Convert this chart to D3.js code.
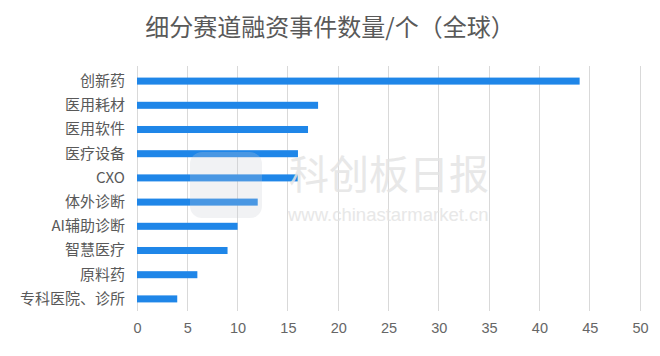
<!DOCTYPE html>
<html><head><meta charset="utf-8">
<script src="https://cdn.jsdelivr.net/npm/d3@7"></script>
<style>body{margin:0;background:#fff}svg{display:block}</style>
</head><body>
<svg id="c" width="660" height="356"></svg>
<script>
const categories = ["创新药","医用耗材","医用软件","医疗设备","CXO","体外诊断","AI辅助诊断","智慧医疗","原料药","专科医院、诊所"];
const values = [44,18,17,16,16,12,10,9,6,4];
const xTicks = [0,5,10,15,20,25,30,35,40,45,50];
const title = "细分赛道融资事件数量/个（全球）";

const svg = d3.select("#c");
const font = "'Noto Sans CJK SC','Noto Sans',sans-serif";
const x = d3.scaleLinear().domain([0,50]).range([137,640]);
const y = d3.scaleBand().domain(categories).range([69,311]).paddingInner(0.71).paddingOuter(0.355);

// grid
svg.append("g").selectAll("line").data(xTicks).join("line")
  .attr("x1",d=>x(d)).attr("x2",d=>x(d)).attr("y1",66).attr("y2",311)
  .attr("stroke","#d9d9d9").attr("stroke-width",1).attr("shape-rendering","crispEdges");

// bars
svg.append("g").selectAll("rect").data(values).join("rect")
  .attr("x",x(0)).attr("y",(d,i)=>y(categories[i]))
  .attr("width",d=>x(d)-x(0)).attr("height",y.bandwidth())
  .attr("fill","#1f86e8");

// x axis
const xa = svg.append("g").attr("transform","translate(0,323)")
  .call(d3.axisBottom(x).tickValues(xTicks).tickSize(0).tickPadding(0));
xa.select(".domain").remove();
xa.selectAll("text").attr("font-family","'Liberation Sans',Arial,sans-serif").attr("font-size",14.5).attr("fill","#666");

// y axis labels
const ya = svg.append("g").attr("transform","translate(125,0)")
  .call(d3.axisLeft(y).tickSize(0).tickPadding(0));
ya.select(".domain").remove();
ya.selectAll("text").attr("font-family",font).attr("font-size",15).attr("fill","#595959");

// title
svg.append("text").attr("x",330).attr("y",36).attr("text-anchor","middle")
  .attr("font-family",font).attr("font-size",24).attr("fill","#595959").text(title);

// watermark
const wm = svg.append("g");
wm.append("rect").attr("x",190).attr("y",152).attr("width",72).attr("height",66).attr("rx",12)
  .attr("fill","#c8ccd4").attr("opacity",0.25);
wm.append("text").attr("x",289).attr("y",189).attr("font-family",font).attr("font-size",40)
  .attr("fill","#e4e4e4").attr("opacity",0.85).text("科创板日报");
wm.append("text").attr("x",288).attr("y",221).attr("font-family","'Liberation Sans',Arial,sans-serif").attr("font-size",18.5)
  .attr("fill","#e4e4e4").attr("opacity",0.85).text("www.chinastarmarket.cn");
</script>
</body></html>
